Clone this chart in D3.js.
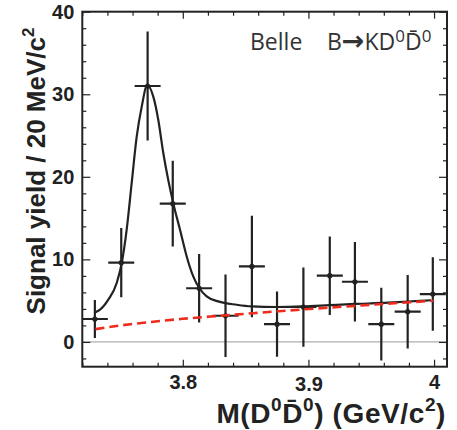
<!DOCTYPE html>
<html>
<head>
<meta charset="utf-8">
<script src="https://cdn.jsdelivr.net/npm/d3@7"></script>
<style>
  body { margin: 0; background: #fff; }
  text { font-family: "Liberation Sans", Arial, sans-serif; }
</style>
</head>
<body>
<svg id="chart" width="457" height="430"></svg>
<script>
// bin centres (GeV/c^2) and signal yields with errors
var binCenters = [3.730, 3.751, 3.772, 3.792, 3.813, 3.834, 3.855, 3.875, 3.896, 3.917, 3.937, 3.958, 3.979, 3.999];
var yields = [2.78, 9.6, 31.0, 16.75, 6.5, 3.17, 9.14, 2.15, 4.23, 8.02, 7.29, 2.15, 3.66, 5.8];
var yieldErr = [2.3, 4.2, 6.6, 5.2, 4.15, 5.0, 6.15, 3.95, 4.8, 4.75, 4.8, 4.4, 4.45, 4.45];
var binHalfWidth = 0.01035;

// total fit curve
var fitX = [3.7301, 3.7341, 3.7407, 3.7474, 3.7514, 3.7553, 3.7593, 3.7633, 3.7673, 3.7717,
  3.7765, 3.7805, 3.7845, 3.7884, 3.7924, 3.7978, 3.8031, 3.8083, 3.8131, 3.8190,
  3.8282, 3.8429, 3.8548, 3.8747, 3.8959, 3.9166, 3.9370, 3.9583, 3.9790, 3.9975];
var fitY = [3.58, 3.91, 5.12, 7.14, 9.56, 13.58, 19.23, 24.87, 28.5, 31.12,
  29.71, 26.89, 22.86, 19.63, 16.81, 13.58, 10.35, 7.94, 6.53, 5.52,
  4.91, 4.5, 4.3, 4.23, 4.3, 4.45, 4.6, 4.72, 4.9, 5.05];

// background component (red dashed)
var bkgX = [3.7305, 3.75, 3.7715, 3.80, 3.83, 3.856, 3.8763, 3.8968, 3.9176, 3.9382, 3.9595, 3.9803, 3.9995];
var bkgY = [1.55, 1.98, 2.37, 2.8, 3.17, 3.48, 3.72, 3.95, 4.17, 4.38, 4.6, 4.8, 4.99];

var xMajor = [3.8, 3.9, 4.0];
var xTickLabels = ["3.8", "3.9", "4"];
var xMinor = [3.72, 3.74, 3.76, 3.78, 3.82, 3.84, 3.86, 3.88, 3.92, 3.94, 3.96, 3.98];
var yMajor = [0, 10, 20, 30, 40];
var yTickLabels = ["0", "10", "20", "30", "40"];
var yMinor = [-2, 2, 4, 6, 8, 12, 14, 16, 18, 22, 24, 26, 28, 32, 34, 36, 38];

function draw() {
  var svg = d3.select("#chart");
  var left = 82.3, right = 447, top = 11.7, bottom = 366.7;
  var ink = "#222";

  var x = d3.scaleLinear().domain([3.72, 4.0103]).range([left, right]);
  var y = d3.scaleLinear().domain([-3, 40]).range([bottom, top]);

  // zero line
  svg.append("line")
    .attr("x1", left).attr("x2", right)
    .attr("y1", y(0)).attr("y2", y(0))
    .attr("stroke", "#999").attr("stroke-width", 1);

  function styleAxis(g) {
    g.select(".domain").remove();
    g.selectAll("line").attr("stroke", ink).attr("stroke-width", 1.2);
    g.selectAll("text")
      .attr("fill", ink)
      .style("font-family", "'Liberation Sans', Arial, sans-serif")
      .style("font-weight", "bold")
      .style("font-size", "20px");
  }

  // bottom
  svg.append("g")
    .attr("transform", "translate(0," + bottom + ")")
    .call(d3.axisBottom(x).tickValues(xMajor).tickSize(-7).tickPadding(8)
      .tickFormat(function (d, i) { return xTickLabels[i]; }))
    .call(styleAxis)
    .selectAll("text")
    .attr("dy", function (d) { return d === 3.9 ? "0.8em" : "0.71em"; });
  svg.append("g")
    .attr("transform", "translate(0," + bottom + ")")
    .call(d3.axisBottom(x).tickValues(xMinor).tickSize(-4).tickFormat(""))
    .call(styleAxis);

  // top
  svg.append("g")
    .attr("transform", "translate(0," + top + ")")
    .call(d3.axisTop(x).tickValues(xMajor).tickSize(-7).tickFormat(""))
    .call(styleAxis);
  svg.append("g")
    .attr("transform", "translate(0," + top + ")")
    .call(d3.axisTop(x).tickValues(xMinor).tickSize(-4).tickFormat(""))
    .call(styleAxis);

  // left
  svg.append("g")
    .attr("transform", "translate(" + left + ",0)")
    .call(d3.axisLeft(y).tickValues(yMajor).tickSize(-8).tickPadding(8)
      .tickFormat(function (d, i) { return yTickLabels[i]; }))
    .call(styleAxis);
  svg.append("g")
    .attr("transform", "translate(" + left + ",0)")
    .call(d3.axisLeft(y).tickValues(yMinor).tickSize(-4).tickFormat(""))
    .call(styleAxis);

  // right
  svg.append("g")
    .attr("transform", "translate(" + right + ",0)")
    .call(d3.axisRight(y).tickValues(yMajor).tickSize(-8).tickFormat(""))
    .call(styleAxis);
  svg.append("g")
    .attr("transform", "translate(" + right + ",0)")
    .call(d3.axisRight(y).tickValues(yMinor).tickSize(-4).tickFormat(""))
    .call(styleAxis);

  // frame
  svg.append("rect")
    .attr("x", left).attr("y", top)
    .attr("width", right - left).attr("height", bottom - top)
    .attr("fill", "none").attr("stroke", ink).attr("stroke-width", 2);

  svg.append("clipPath").attr("id", "plotclip")
    .append("rect")
    .attr("x", left).attr("y", top)
    .attr("width", right - left).attr("height", bottom - top);

  var plot = svg.append("g").attr("clip-path", "url(#plotclip)");

  // data points
  var pts = plot.selectAll("g.pt")
    .data(binCenters)
    .enter()
    .append("g")
    .attr("class", "pt");

  pts.append("line")
    .attr("x1", function (d) { return x(d); })
    .attr("x2", function (d) { return x(d); })
    .attr("y1", function (d, i) { return y(yields[i] - yieldErr[i]); })
    .attr("y2", function (d, i) { return y(yields[i] + yieldErr[i]); })
    .attr("stroke", ink).attr("stroke-width", 2.2);

  pts.append("line")
    .attr("x1", function (d) { return x(d - binHalfWidth); })
    .attr("x2", function (d) { return x(d + binHalfWidth); })
    .attr("y1", function (d, i) { return y(yields[i]); })
    .attr("y2", function (d, i) { return y(yields[i]); })
    .attr("stroke", ink).attr("stroke-width", 2.2);

  pts.append("circle")
    .attr("cx", function (d) { return x(d); })
    .attr("cy", function (d, i) { return y(yields[i]); })
    .attr("r", 2.6)
    .attr("fill", ink);

  // fit
  var line = d3.line()
    .x(function (d) { return x(d[0]); })
    .y(function (d) { return y(d[1]); })
    .curve(d3.curveMonotoneX);

  plot.append("path")
    .datum(d3.zip(fitX, fitY))
    .attr("d", line)
    .attr("fill", "none")
    .attr("stroke", ink)
    .attr("stroke-width", 2.2);

  plot.append("path")
    .datum(d3.zip(bkgX, bkgY))
    .attr("d", line)
    .attr("fill", "none")
    .attr("stroke", "#ee2b1c")
    .attr("stroke-width", 2.6)
    .attr("stroke-dasharray", "9,5");

  // legend text
  var leg = svg.append("text")
    .attr("x", 250).attr("y", 50)
    .attr("fill", "#333")
    .style("font-family", "'Open Sans', 'Noto Sans', sans-serif")
    .style("font-size", "23px");
  leg.append("tspan").text("Belle");
  leg.append("tspan").attr("x", 327).text("B");
  leg.append("tspan")
    .style("font-family", "'DejaVu Sans', sans-serif")
    .style("font-weight", "bold")
    .style("font-size", "27px")
    .text("\u2192");
  leg.append("tspan").text("KD");
  leg.append("tspan").attr("dy", -8).style("font-size", "17px").text("0");
  leg.append("tspan").attr("dy", 8).text("D\u0304");
  leg.append("tspan").attr("dy", -8).style("font-size", "17px").text("0");

  // axis titles
  var yt = svg.append("text")
    .attr("transform", "translate(45,171) rotate(-90)")
    .attr("text-anchor", "middle")
    .attr("fill", ink)
    .style("font-weight", "bold")
    .style("font-size", "26px");
  yt.append("tspan").text("Signal yield / 20 MeV/c");
  yt.append("tspan").attr("dy", -11).style("font-size", "17px").text("2");

  var xt = svg.append("text")
    .attr("x", 446).attr("y", 423)
    .attr("text-anchor", "end")
    .attr("fill", ink)
    .style("font-weight", "bold")
    .style("font-size", "28px")
    .style("letter-spacing", "0.6px");
  xt.append("tspan").text("M(D");
  xt.append("tspan").attr("dy", -12).style("font-size", "19px").text("0");
  xt.append("tspan").attr("dy", 12).text("D\u0304");
  xt.append("tspan").attr("dy", -12).style("font-size", "19px").text("0");
  xt.append("tspan").attr("dy", 12).text(") (GeV/c");
  xt.append("tspan").attr("dy", -12).style("font-size", "19px").text("2");
  xt.append("tspan").attr("dy", 12).text(")");
}

draw();
</script>
</body>
</html>
